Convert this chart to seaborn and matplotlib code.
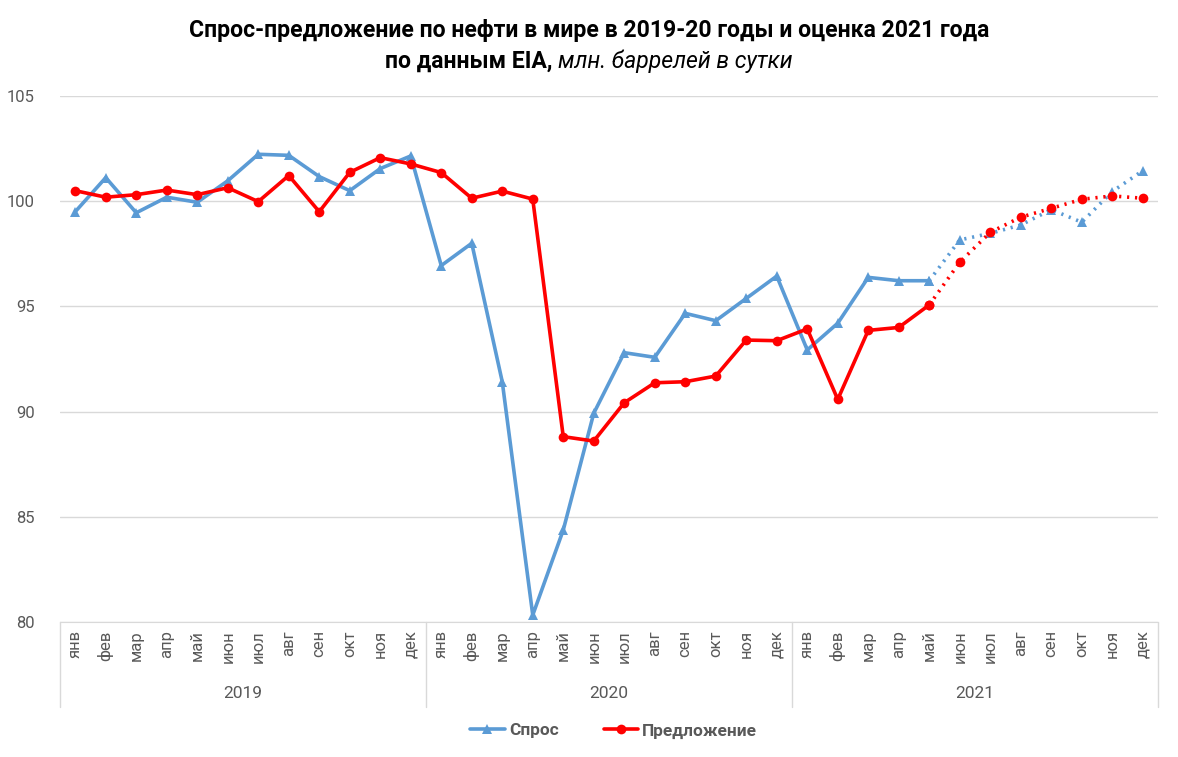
import matplotlib
matplotlib.use("Agg")
import matplotlib.pyplot as plt
import matplotlib.transforms as mtransforms
from matplotlib.lines import Line2D
import seaborn as sns
import pandas as pd

months = ["янв", "фев", "мар", "апр", "май", "июн",
          "июл", "авг", "сен", "окт", "ноя", "дек"]
years = ["2019", "2020", "2021"]

# спрос, млн баррелей в сутки
demand = [99.50, 101.12, 99.45, 100.19, 99.95, 100.97, 102.23, 102.18, 101.17, 100.50, 101.55, 102.15,
          96.94, 98.00, 91.42, 80.33, 84.37, 89.92, 92.80, 92.58, 94.67, 94.32, 95.38, 96.44,
          92.93, 94.20, 96.38, 96.22, 96.22, 98.16, 98.47, 98.87, 99.60, 99.00, 100.46, 101.45]
# предложение
supply = [100.50, 100.19, 100.31, 100.53, 100.31, 100.64, 99.98, 101.22, 99.50, 101.37, 102.07, 101.77,
          101.36, 100.14, 100.48, 100.10, 88.81, 88.60, 90.42, 91.37, 91.42, 91.69, 93.40, 93.37,
          93.93, 90.58, 93.86, 94.00, 95.07, 97.10, 98.52, 99.24, 99.66, 100.09, 100.25, 100.14]

forecast_start = 28  # май 2021 - дальше оценка

df = pd.DataFrame({"i": range(len(demand)), "demand": demand, "supply": supply})
fact = df[df.i <= forecast_start]
fcst = df[df.i >= forecast_start]

sns.set_style("white")
plt.rcParams["font.family"] = ["Roboto", "DejaVu Sans"]

BLUE = "#5B9BD5"
RED = "#FF0000"
GREY = "#595959"

fig = plt.figure(figsize=(11.78, 7.57), dpi=100)
ax = fig.add_axes([60 / 1178, 1 - 622 / 757, 1098 / 1178, 526 / 757])

sns.lineplot(data=fact, x="i", y="demand", ax=ax, color=BLUE, lw=2.6,
             marker="^", markersize=7, markeredgewidth=0)
sns.lineplot(data=fcst, x="i", y="demand", ax=ax, color=BLUE, lw=2.6, ls=(0, (0.6, 1.6)),
             marker="^", markersize=7, markeredgewidth=0)
sns.lineplot(data=fact, x="i", y="supply", ax=ax, color=RED, lw=2.6,
             marker="o", markersize=7, markeredgewidth=0)
sns.lineplot(data=fcst, x="i", y="supply", ax=ax, color=RED, lw=2.6, ls=(0, (0.6, 1.6)),
             marker="o", markersize=7, markeredgewidth=0)

ax.set_xlim(-0.5, len(demand) - 0.5)
ax.set_ylim(80, 105)
ax.set_yticks(range(80, 106, 5))
ax.yaxis.grid(True, color="#D9D9D9", lw=1)
ax.set_axisbelow(True)
for s in ["left", "right", "top"]:
    ax.spines[s].set_visible(False)
ax.spines["bottom"].set_color("#D9D9D9")
ax.set_xlabel("")
ax.set_ylabel("")
ax.tick_params(axis="y", length=0, labelsize=12, labelcolor=GREY, pad=18)

ax.set_xticks(range(len(demand)))
ax.set_xticklabels(months * len(years), rotation=90, fontsize=12, color=GREY, va="top")
ax.tick_params(axis="x", length=0, pad=6)

# подписи годов и разделители
trans = mtransforms.blended_transform_factory(ax.transData, ax.transAxes)
for k, yr in enumerate(years):
    ax.text(k * 12 + 5.5, -0.135, yr, transform=trans, ha="center", va="center",
            fontsize=12.5, color=GREY)
for k in range(len(years) + 1):
    ax.add_line(Line2D([k * 12 - 0.5] * 2, [0, -0.162], transform=trans,
                       color="#D9D9D9", lw=1, clip_on=False))

# заголовок
fig.text(0.5, 1 - 30 / 757, "Спрос-предложение по нефти в мире в 2019-20 годы и оценка 2021 года",
         ha="center", va="center", fontsize=16.6, fontweight="bold", color="black")
renderer = fig.canvas.get_renderer()
t1 = fig.text(0, 1 - 61 / 757, "по данным EIA, ", ha="left", va="center",
              fontsize=16.6, fontweight="bold", color="black")
t2 = fig.text(0, 1 - 61 / 757, "млн. баррелей в сутки", ha="left", va="center",
              fontsize=16.6, fontstyle="italic", color="black")
w1 = t1.get_window_extent(renderer).width / fig.bbox.width
w2 = t2.get_window_extent(renderer).width / fig.bbox.width
x0 = 0.5 - (w1 + w2) / 2
t1.set_x(x0)
t2.set_x(x0 + w1)

handles = [Line2D([], [], color=BLUE, lw=2.6, marker="^", markersize=7, markeredgewidth=0),
           Line2D([], [], color=RED, lw=2.6, marker="o", markersize=7, markeredgewidth=0)]
leg = fig.legend(handles, ["Спрос", "Предложение"], loc="center", ncol=2,
                 bbox_to_anchor=(0.521, 1 - 731 / 757), frameon=False,
                 handlelength=2.0, columnspacing=2.6, handletextpad=0.25,
                 prop={"weight": "bold", "size": 12.4})
for t in leg.get_texts():
    t.set_color(GREY)

fig.savefig("out.png", dpi=100)
